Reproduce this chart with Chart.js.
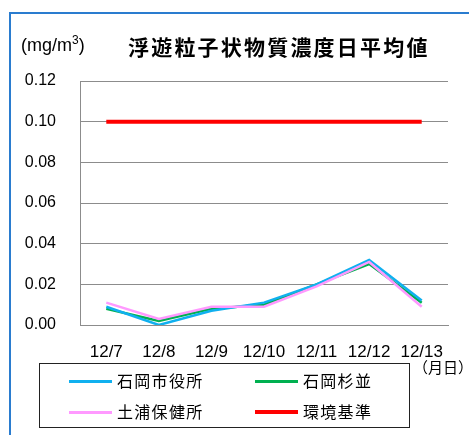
<!DOCTYPE html>
<html><head><meta charset="utf-8">
<script src="https://cdn.jsdelivr.net/npm/chart.js@4"></script>
<style>
html,body{margin:0;padding:0;background:#fff;}
#wrap{position:relative;width:469px;height:435px;overflow:hidden;font-family:"Liberation Sans","Noto Sans CJK JP",sans-serif;}
#frame{position:absolute;left:9px;top:12px;width:600px;height:600px;border-top:2px solid #2a7ccf;border-left:2px solid #2a7ccf;}
#c{position:absolute;left:0;top:0;}
#title{position:absolute;left:128px;top:31px;font-family:"Noto Sans CJK JP",sans-serif;font-weight:bold;font-size:21px;letter-spacing:2.2px;color:#000;white-space:nowrap;}
#unit{position:absolute;left:21px;top:35px;font-size:18px;color:#000;white-space:nowrap;}
#unit sup{font-size:12px;vertical-align:7px;line-height:0;}
#md{position:absolute;left:413px;top:356px;font-family:"Noto Sans CJK JP",sans-serif;font-size:15px;color:#000;white-space:nowrap;}
#legend{position:absolute;left:39px;top:363px;width:371px;height:65px;border:1px solid #222;box-sizing:border-box;}
.li{position:absolute;font-family:"Noto Sans CJK JP",sans-serif;font-size:16px;letter-spacing:1.3px;color:#000;white-space:nowrap;line-height:20px;}
.ln{position:absolute;height:3px;width:43px;}
</style></head>
<body>
<div id="wrap">
<div id="frame"></div>
<canvas id="c" width="469" height="435"></canvas>
<div id="title">浮遊粒子状物質濃度日平均値</div>
<div id="unit">(mg/m<sup>3</sup>)</div>
<div id="md">（月日）</div>
<div id="legend"></div>
</div>
<script>
const categories = ["12/7","12/8","12/9","12/10","12/11","12/12","12/13"];
const seriesNames = ["石岡市役所","石岡杉並","土浦保健所","環境基準"];
const ishiokaShiyakusho = [0.009, 0.000, 0.007, 0.011, 0.020, 0.032, 0.012];
const ishiokaSuginami   = [0.008, 0.002, 0.008, 0.010, 0.020, 0.030, 0.011];
const tsuchiuraHokenjo  = [0.011, 0.003, 0.009, 0.009, 0.019, 0.031, 0.009];
const kankyoKijun       = [0.10, 0.10, 0.10, 0.10, 0.10, 0.10, 0.10];
const yTicks = [0, 0.02, 0.04, 0.06, 0.08, 0.10, 0.12];

const colors = ["#10b0ef", "#00b050", "#ff99ff", "#ff0000"];
const widths = [2.5, 2.5, 2.5, 4];
const values = [ishiokaShiyakusho, ishiokaSuginami, tsuchiuraHokenjo, kankyoKijun];

// HTML legend
const lg = document.getElementById('legend');
const pos = [[29,17],[215,17],[29,48],[215,48]];
seriesNames.forEach((n,i)=>{
  const l = document.createElement('div'); l.className='ln';
  l.style.left = pos[i][0]+'px'; l.style.top = (pos[i][1]-1 - (widths[i]>3?1:0))+'px';
  l.style.height = (widths[i]>3?4:3)+'px';
  l.style.background = colors[i];
  lg.appendChild(l);
  const t = document.createElement('div'); t.className='li'; t.textContent = n;
  t.style.left = (pos[i][0]+48)+'px'; t.style.top = (pos[i][1]-11)+'px';
  lg.appendChild(t);
});

new Chart(document.getElementById('c'), {
  type: 'line',
  data: {
    labels: categories,
    datasets: seriesNames.map((n,i)=>({
      label: n, data: values[i], borderColor: colors[i], backgroundColor: colors[i],
      borderWidth: widths[i], pointRadius: 0, tension: 0, fill: false,
      order: [2,3,1,0][i]
    }))
  },
  options: {
    responsive: false, animation: false, devicePixelRatio: 1,
    layout: { padding: { left: 0, right: 21, top: 81, bottom: 0 } },
    plugins: { legend: { display: false }, tooltip: { enabled: false }, title: { display: false } },
    scales: {
      x: {
        offset: true,
        grid: { display: false, drawTicks: false },
        border: { display: true, color: '#8c8c8c', width: 1 },
        ticks: { color: '#000', font: { family: 'Liberation Sans', size: 17 }, padding: 17, maxRotation: 0, autoSkip: false },
        afterFit: s => { s.height = 110; }
      },
      y: {
        min: 0, max: 0.12,
        afterBuildTicks: s => { s.ticks = yTicks.map(v => ({ value: v })); },
        grid: { color: '#8c8c8c', lineWidth: 1, drawTicks: false },
        border: { display: true, color: '#8c8c8c', width: 1 },
        ticks: { color: '#000', font: { family: 'Liberation Sans', size: 16 }, padding: 24, callback: v => Number(v).toFixed(2) },
        afterFit: s => { s.width = 80; }
      }
    }
  }
});
</script>
</body></html>
